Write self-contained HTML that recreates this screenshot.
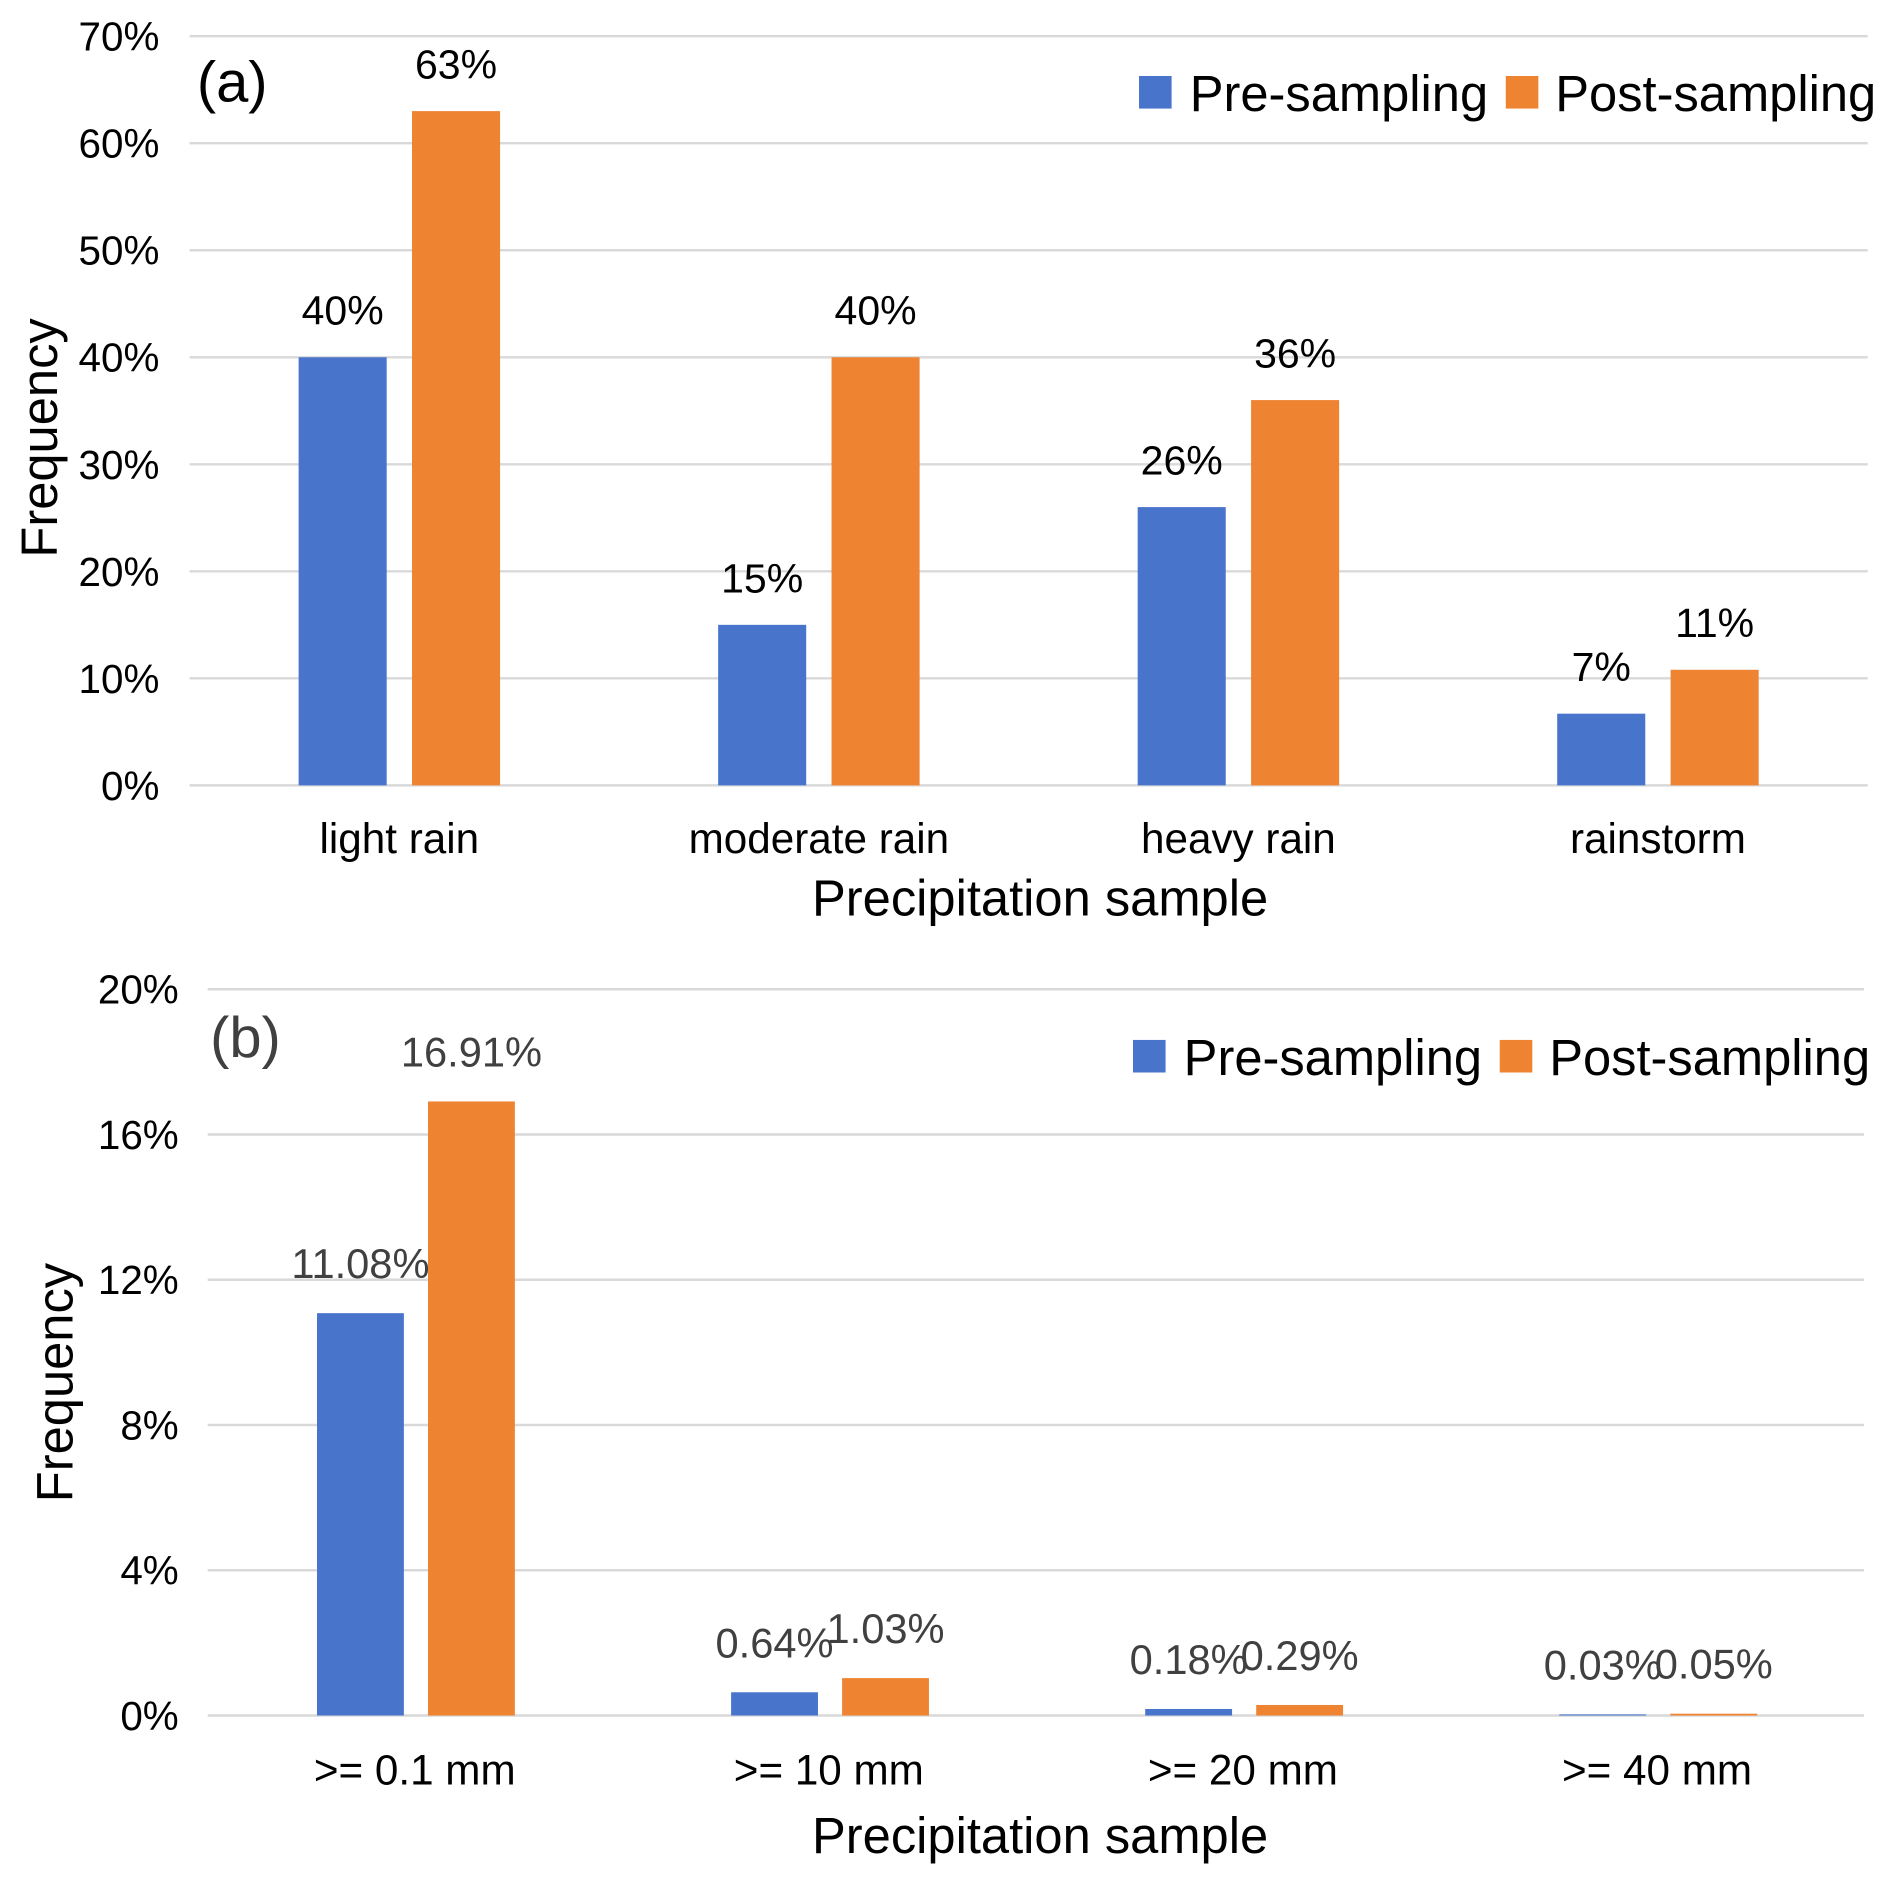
<!DOCTYPE html>
<html><head><meta charset="utf-8"><style>
html,body{margin:0;padding:0;background:#fff;}
svg{display:block;font-family:"Liberation Sans",Arial,sans-serif;}
</style></head><body>
<svg id="chart" width="1892" height="1882" viewBox="0 0 1568 1560" xmlns="http://www.w3.org/2000/svg"></svg>
<script>
const catsA = ["light rain","moderate rain","heavy rain","rainstorm"];
const preA = [40,15,26,6.7];
const postA = [63,40,36,10.8];
const preLabelsA = ["40%","15%","26%","7%"];
const postLabelsA = ["63%","40%","36%","11%"];
const ticksA = [0,10,20,30,40,50,60,70];

const catsB = [">= 0.1 mm",">= 10 mm",">= 20 mm",">= 40 mm"];
const preB = [11.08,0.64,0.18,0.03];
const postB = [16.91,1.03,0.29,0.05];
const preLabelsB = ["11.08%","0.64%","0.18%","0.03%"];
const postLabelsB = ["16.91%","1.03%","0.29%","0.05%"];
const ticksB = [0,4,8,12,16,20];

const NS="http://www.w3.org/2000/svg";
const svg=document.getElementById('chart');
function mk(tag,attrs,parent,text){const e=document.createElementNS(NS,tag);for(const k in attrs)e.setAttribute(k,attrs[k]);if(text!==undefined)e.textContent=text;(parent||svg).appendChild(e);return e;}

function panel(cfg){
  const g=mk('g',{});
  
  
  const y=v=>cfg.y0-(v-cfg.min)/(cfg.max-cfg.min)*(cfg.y0-cfg.y1);
  const band=(cfg.x1-cfg.x0)/cfg.cats.length;
  const xc=i=>cfg.x0+band*(i+0.5);
  cfg.ticks.forEach(t=>{
    const l=mk('line',{x1:cfg.x0,x2:cfg.x1,y1:y(t),y2:y(t),stroke:'#d9d9d9','stroke-width':2},g);
    
    
    const tx=mk('text',{x:cfg.tickX,y:y(t)+12,'text-anchor':'end','font-size':33.5,fill:'#000'},g,t+'%');
    
    
  });
  cfg.cats.forEach((c,i)=>{
    const t=mk('text',{x:xc(i),y:cfg.catY,'text-anchor':'middle','font-size':35,fill:'#000'},g,c);
    
    
    [[cfg.pre,cfg.preL,cfg.offPre,'#4874cb','pre'],[cfg.post,cfg.postL,cfg.offPost,'#ee8332','post']].forEach(s=>{
      const v=s[0][i];const top=y(v);
      const r=mk('rect',{x:xc(i)+s[2]-cfg.bw/2,y:top,width:cfg.bw,height:Math.max(0.5,cfg.y0-top),fill:s[3]},g);
      
      
      const lb=mk('text',{x:xc(i)+s[2],y:top-cfg.lblGap,'text-anchor':'middle','font-size':cfg.lblSize,fill:cfg.lblColor},g,s[1][i]);
      
      
    });
  });
  const yt=mk('text',{transform:`translate(${cfg.ytX},${cfg.ytY}) rotate(-90)`,'text-anchor':'middle','font-size':42,fill:'#000'},g,'Frequency');
  
  
  const xt=mk('text',{x:862,y:cfg.xtY,'text-anchor':'middle','font-size':42,fill:'#000'},g,'Precipitation sample');
  
  
  const pl=mk('text',{x:cfg.plX,y:cfg.plY,'font-size':48,fill:cfg.plColor},g,cfg.plText);
  
  
  const lg=mk('g',{},g);
  
  
  const s1=mk('rect',{x:cfg.lgX,y:cfg.lgY,width:27,height:27,fill:'#4874cb'},lg);
  
  
  const t1=mk('text',{x:cfg.lgX+42,y:cfg.lgY+29,'font-size':42,fill:'#000'},lg,'Pre-sampling');
  
  
  const s2=mk('rect',{x:cfg.lgX+304,y:cfg.lgY,width:27,height:27,fill:'#ee8332'},lg);
  
  
  const t2=mk('text',{x:cfg.lgX+345,y:cfg.lgY+29,'font-size':42,fill:'#000'},lg,'Post-sampling');
  
  
}

panel({name:'panel-a',cats:catsA,pre:preA,post:postA,preL:preLabelsA,postL:postLabelsA,ticks:ticksA,
  min:0,max:70,y0:651,y1:30,x0:157,x1:1548,tickX:132,bw:73,offPre:-47,offPost:47,
  lblGap:27,lblSize:34,lblColor:'#000',catY:707,xtY:759,ytX:47,ytY:363,
  plX:163,plY:84,plText:'(a)',plColor:'#000',lgX:944,lgY:63});
panel({name:'panel-b',cats:catsB,pre:preB,post:postB,preL:preLabelsB,postL:postLabelsB,ticks:ticksB,
  min:0,max:20,y0:1422,y1:820,x0:172,x1:1545,tickX:148,bw:72,offPre:-45,offPost:47,
  lblGap:29,lblSize:34.5,lblColor:'#404040',catY:1479,xtY:1536,ytX:60,ytY:1146,
  plX:174,plY:876,plText:'(b)',plColor:'#404040',lgX:939,lgY:862});
</script>
</body></html>
